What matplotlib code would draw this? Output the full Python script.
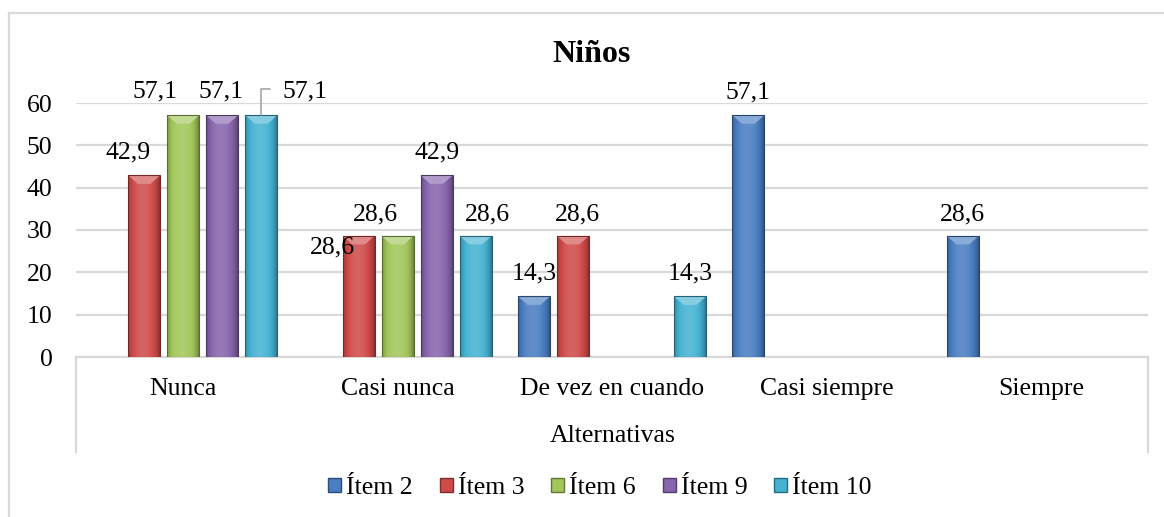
import numpy as np
import matplotlib.pyplot as plt
from matplotlib.colors import to_rgb
from matplotlib.lines import Line2D
from matplotlib.patches import Patch, Polygon

plt.rcParams['font.family'] = ['Liberation Serif', 'DejaVu Serif']

categories = ['Nunca', 'Casi nunca', 'De vez en cuando', 'Casi siempre', 'Siempre']
series = ['Ítem 2', 'Ítem 3', 'Ítem 6', 'Ítem 9', 'Ítem 10']
item2 = [None, None, 14.3, 57.1, 28.6]
item3 = [42.9, 28.6, 28.6, None, None]
item6 = [57.1, 28.6, None, None, None]
item9 = [57.1, 42.9, None, None, None]
item10 = [57.1, 28.6, 14.3, None, None]
yticks = [0, 10, 20, 30, 40, 50, 60]

values = [item2, item3, item6, item9, item10]
colors = ['#4a7ec2', '#cf4b49', '#a2c65a', '#8765ad', '#45b2d2']
FS = 18.5

# label offsets in pixels (dx, dy) from the top centre of the bar
default_off = (0, 23)
label_off = {(1, 0): (-16, 23), (2, 0): (-28, 24), (3, 0): (-1, 24),
             (4, 0): (44, 24), (1, 1): (-26, -12), (2, 1): (-22, 21),
             (4, 1): (12, 21), (1, 2): (4, 21), (0, 4): (0, 21)}


def shade(c, f):
    c = np.array(to_rgb(c))
    if f >= 1:
        return c + (1 - c) * (f - 1)
    return c * f


def draw_bar(ax, x, h, w, color):
    bar = ax.bar(x, h, w, color=color, edgecolor='none', zorder=3)[0]
    t = np.linspace(0, 1, 64)
    prof = 0.72 + 0.45 * np.sin(np.pi * t) ** 0.6 - 0.08 * t
    img = np.array([[shade(color, f) for f in prof]])
    im = ax.imshow(img, extent=(x - w / 2, x + w / 2, 0, h), aspect='auto',
                   zorder=3.1, interpolation='bilinear')
    im.set_clip_path(bar)
    bev = 2.0
    top = Polygon([(x - w / 2, h), (x + w / 2, h),
                   (x + w / 2 - w * 0.3, h - bev), (x - w / 2 + w * 0.3, h - bev)],
                  closed=True, facecolor=shade(color, 1.35), edgecolor='none',
                  zorder=3.2)
    ax.add_patch(top)
    ax.bar(x, h, w, color='none', edgecolor=shade(color, 0.55),
           linewidth=0.8, zorder=3.3)


fig = plt.figure(figsize=(11.64, 5.17), dpi=100)
ax = fig.add_axes([76 / 1164, 1 - 357 / 517, (1148 - 76) / 1164, (357 - 103) / 517])

width = 0.149
step = 0.182
x = np.arange(len(categories))

for i, (vals, col) in enumerate(zip(values, colors)):
    for j, v in enumerate(vals):
        if v is None:
            continue
        xc = x[j] + (i - 2) * step
        draw_bar(ax, xc, v, width, col)
        dx, dy = label_off.get((i, j), default_off)
        txt = f'{v:.1f}'.replace('.', ',')
        if (i, j) == (4, 0):
            ax.annotate(txt, xy=(xc, v), xytext=(dx, dy),
                        textcoords='offset pixels', ha='center', va='center',
                        fontsize=FS, zorder=5,
                        arrowprops=dict(arrowstyle='-', color='#a6a6a6', lw=1.2,
                                        connectionstyle='angle,angleA=0,angleB=90,rad=0',
                                        relpos=(0, 0.6), shrinkA=7, shrinkB=0))
        else:
            ax.annotate(txt, xy=(xc, v), xytext=(dx, dy),
                        textcoords='offset pixels', ha='center', va='center',
                        fontsize=FS, zorder=5)

ax.set_xlim(-0.5, len(categories) - 0.5)
ax.set_ylim(0, 60)
ax.set_yticks(yticks)
ax.set_xticks(x)
ax.set_xticklabels(categories, fontsize=FS)
ax.tick_params(axis='y', length=0, pad=17, labelsize=FS)
ax.tick_params(axis='x', length=0, pad=15)
ax.grid(axis='y', color='#d9d9d9', linewidth=1.6, zorder=0)
ax.set_axisbelow(True)
for s in ['top', 'right', 'left']:
    ax.spines[s].set_visible(False)
ax.spines['bottom'].set_color('#d9d9d9')
ax.spines['bottom'].set_linewidth(1.6)

# category axis box
box_low = -(452 - 357) / (357 - 103)
for xa in [0, 1]:
    ax.plot([xa, xa], [0, box_low], transform=ax.transAxes, color='#d9d9d9',
            linewidth=1.6, clip_on=False)

fig.text(613 / 1164, 1 - 436 / 517, 'Alternativas', ha='center', va='center',
         fontsize=FS)
fig.text(592 / 1164, 1 - 54 / 517, 'Niños', ha='center', va='center',
         fontsize=23, fontweight='bold')

handles = [Patch(facecolor=c, edgecolor=shade(c, 0.6)) for c in colors]
fig.legend(handles, series, loc='center', bbox_to_anchor=(600 / 1164, 1 - 488 / 517),
           ncol=5, frameon=False, fontsize=FS, handlelength=0.5, handleheight=0.5,
           handletextpad=0.2, columnspacing=1.05)

# outer chart border
fig.add_artist(Line2D([9 / 1164, 9 / 1164], [0, 1 - 13 / 517], color='#d9d9d9',
                      linewidth=1.6))
fig.add_artist(Line2D([9 / 1164, 1], [1 - 13 / 517, 1 - 13 / 517], color='#d9d9d9',
                      linewidth=1.6))

fig.savefig('out.png', dpi=100)
